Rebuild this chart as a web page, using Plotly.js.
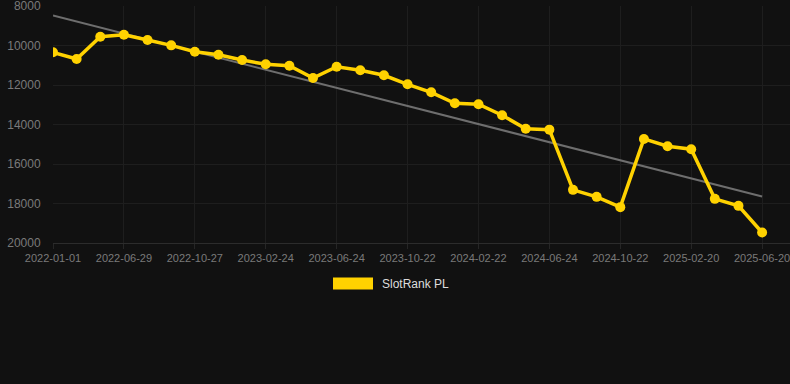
<!DOCTYPE html>
<html>
<head>
<meta charset="utf-8">
<script src="https://cdn.plot.ly/plotly-3.0.1.min.js"></script>
<style>
  html, body { margin: 0; padding: 0; background: #111111; }
  #chart { width: 790px; height: 384px; }
</style>
</head>
<body>
<div id="chart"></div>
<script>
// Tick labels shown under every third point
const tickLabels = ["2022-01-01", "2022-06-29", "2022-10-27", "2023-02-24", "2023-06-24",
  "2023-10-22", "2024-02-22", "2024-06-24", "2024-10-22", "2025-02-20", "2025-06-20"];

// SlotRank PL ranks (31 points)
const rankValues = [10346, 10685, 9558, 9456, 9724, 9992, 10316, 10468, 10736, 10953,
  11024, 11646, 11075, 11257, 11509, 11965, 12369, 12925, 12976, 13532,
  14215, 14260, 17310, 17664, 18185, 14731, 15100, 15252, 17765, 18119, 19469];

// Trend line end points (start and end of series)
const trendValues = [8475, 17648];

const seriesName = "SlotRank PL";
const yTicks = [8000, 10000, 12000, 14000, 16000, 18000, 20000];

const xIdx = rankValues.map((_, i) => i);
const tickIdx = tickLabels.map((_, i) => i * 3);
const trendX = [0, rankValues.length - 1];

const traces = [
  {
    x: trendX, y: trendValues, type: "scatter", mode: "lines",
    line: { color: "#6e6e6e", width: 2 }, hoverinfo: "skip", showlegend: false
  },
  {
    x: xIdx, y: rankValues, type: "scatter", mode: "lines+markers",
    name: seriesName,
    line: { color: "#FFD200", width: 3.5 },
    marker: { color: "#FFD200", size: 10 },
    showlegend: false
  }
];

const layout = {
  width: 790, height: 384,
  paper_bgcolor: "#111111", plot_bgcolor: "#111111",
  margin: { l: 53, r: 0, t: 6, b: 140.6 },
  font: { family: "Arial, 'Liberation Sans', sans-serif", color: "#888888", size: 11 },
  xaxis: {
    type: "linear", range: [0, 31.18],
    tickvals: tickIdx, ticktext: tickLabels,
    showgrid: true, gridcolor: "#1e1e1e", gridwidth: 1,
    zeroline: false, showline: true, linecolor: "#2c2c2c", linewidth: 1,
    ticks: "outside", ticklen: 5, tickcolor: "#262626",
    tickfont: { size: 11, color: "#7a7a7a" },
    ticklabeloverflow: "allow"
  },
  yaxis: {
    range: [20000, 8000], tickvals: yTicks, tickformat: "d",
    showgrid: true, gridcolor: "#1e1e1e", gridwidth: 1,
    zeroline: false, showline: false,
    ticks: "outside", ticklen: 9, tickcolor: "rgba(0,0,0,0)",
    tickfont: { size: 12, color: "#7a7a7a" },
    ticklabeloverflow: "allow"
  },
  shapes: [
    { type: "rect", xref: "paper", yref: "paper",
      x0: (333 - 53) / 737, x1: (373 - 53) / 737,
      y0: (243.4 - 290) / 237.4, y1: (243.4 - 278) / 237.4,
      fillcolor: "#FFD200", line: { width: 0 } }
  ],
  annotations: [
    { text: seriesName, xref: "paper", yref: "paper",
      x: (380 - 53) / 737, y: (243.4 - 284) / 237.4,
      xanchor: "left", yanchor: "middle", showarrow: false,
      font: { size: 12, color: "#dddddd" } }
  ]
};

Plotly.newPlot("chart", traces, layout, { displayModeBar: false, staticPlot: true });
</script>
</body>
</html>
